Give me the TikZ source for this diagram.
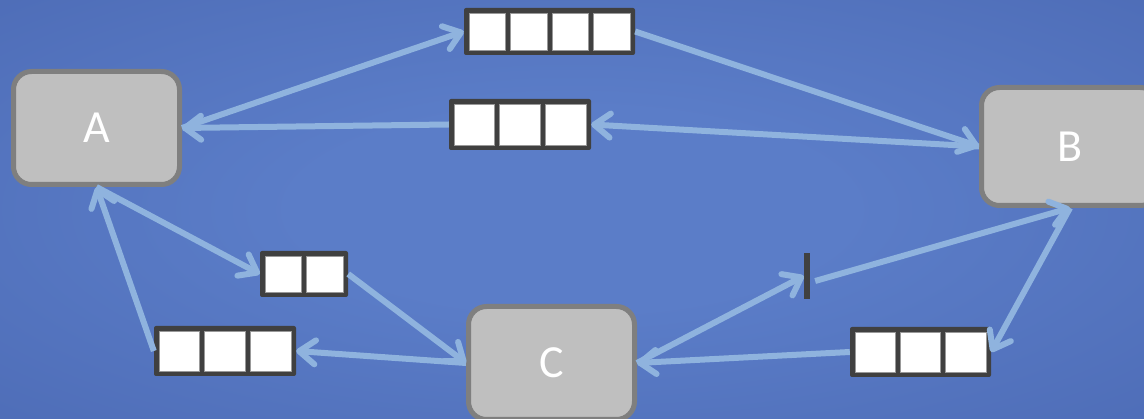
\documentclass[tikz,border=0pt]{standalone}
\usepackage{fontspec}
\setmainfont{Carlito}
\usetikzlibrary{arrows.meta,calc,fit}

\definecolor{bgin}{HTML}{5B7DC8}
\definecolor{bgedge}{HTML}{4764AE}
\definecolor{bgcorner}{HTML}{3E599F}
\definecolor{boxfill}{HTML}{BFBFBF}
\definecolor{boxline}{HTML}{7F7F7F}
\definecolor{qdark}{HTML}{404040}
\definecolor{linkblue}{HTML}{8FB3DE}

% soft glow behind the whole network
\pgfdeclareradialshading{bgglow}{\pgfpoint{0bp}{0bp}}{%
  color(0bp)=(bgin); color(12bp)=(bgin); color(50bp)=(bgedge); color(71bp)=(bgcorner); color(100bp)=(bgcorner)}

\tikzset{
  station/.style={draw=boxline, fill=boxfill, line width=5pt, rounded corners=18pt,
    inner sep=0pt, text=white, font=\fontsize{46}{46}\selectfont},
  qframe/.style={fill=qdark, rounded corners=2pt, inner sep=0pt},
  qcell/.style={fill=white, draw=gray!80, line width=0.8pt},
  bufbar/.style={fill=qdark, inner sep=0pt, minimum width=6pt, minimum height=46pt},
  link/.style={draw=linkblue, line width=6pt,
    -{Straight Barb[length=16pt,width=24pt,round]}},
}

% a buffer: dark frame from (x0,y0) to (x1,y1) holding n white cells
\newcommand\queuebox[6]{%
  \node[qframe, fit={(#2,#3) (#4,#5)}] (#1) {};
  \pgfmathsetmacro\qcellw{(#4-#2-5)/#6-5}
  \foreach \k in {1,...,#6}{
    \pgfmathsetmacro\qcx{#2+5+(\k-1)*(\qcellw+5)}
    \path[qcell] (\qcx,#3+5) rectangle ++(\qcellw,#5-#3-10);
  }
}

\begin{document}
\begin{tikzpicture}[x=1pt, y=-1pt]
  \useasboundingbox (0,0) rectangle (1144,419);
  \shade[shading=bgglow] (0,0) rectangle (1144,419);

  % stations
  \node[station, minimum width=166pt, minimum height=113pt] (A) at (96.5,128) {A};
  \node[station, minimum width=177pt, minimum height=118pt] (B) at (1070,146.5) {B};
  \node[station, minimum width=166pt, minimum height=113pt] (C) at (551.5,363) {C};

  % buffers
  \queuebox{q1}{464}{8}{635}{55}{4}
  \queuebox{q2}{449}{99}{591}{150}{3}
  \queuebox{q3}{260}{251}{348}{297}{2}
  \queuebox{q4}{154}{326}{296}{376}{3}
  \queuebox{q5}{850}{327}{991}{377}{3}
  \node[bufbar] (bar) at (807,276) {};

  % links
  \draw[link] (A.east) -- (q1.west);
  \draw[link] (q1.east) -- (B.west);
  \draw[link] (B.west) -- (q2.east);
  \draw[link] (q2.west) -- (A.east);
  \draw[link] (A.south) -- (q3.west);
  \draw[link] (q3.east) -- (C.west);
  \draw[link] (C.west) -- (q4.east);
  \draw[link] (q4.west) -- (A.south);
  \draw[link] (C.east) -- (bar.west);
  \draw[link] ($(bar.east)+(5,5)$) -- (B.south);
  \draw[link] (B.south) -- (q5.east);
  \draw[link] (q5.west) -- (C.east);
\end{tikzpicture}
\end{document}
